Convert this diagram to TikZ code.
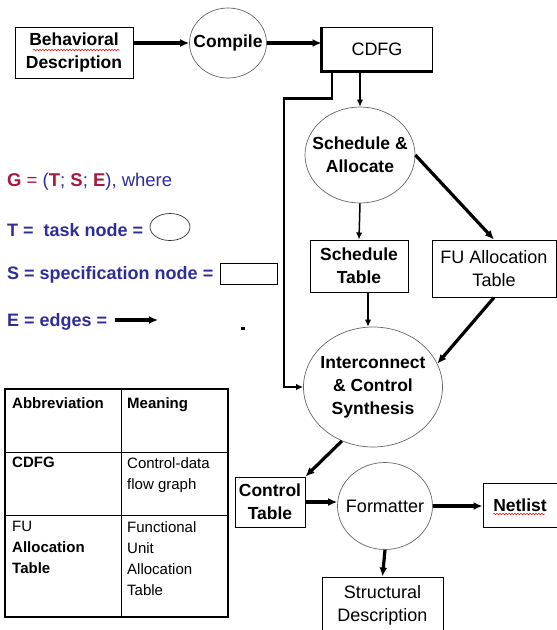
\documentclass[tikz,border=0pt]{standalone}
\usepackage{fontspec}
\setmainfont{Liberation Sans}
\usetikzlibrary{arrows.meta,
                shapes.geometric,
                decorations.pathmorphing}
\definecolor{legblue}{RGB}{45,45,155}
\definecolor{legred}{RGB}{165,25,60}

\begin{document}
\begin{tikzpicture}[x=1pt,y=-1pt]

\tikzstyle{specbox}=[rectangle, draw, line width=1pt, align=center, inner sep=1pt, font=\bfseries\fontsize{17.5}{23}\selectfont]
\tikzstyle{tasknode}=[ellipse, draw=black!60, line width=0.7pt, inner sep=0pt]
\tikzstyle{tasktext}=[align=center, inner sep=0pt, font=\bfseries\fontsize{17.5}{23}\selectfont]
\tikzstyle{arrow}=[-{Latex[length=9pt,width=8pt]}, line width=3.2pt]
\tikzstyle{thinarrow}=[-{Latex[length=7pt,width=6.5pt]}, line width=1.5pt]
\tikzstyle{legend}=[anchor=west, inner sep=0pt, text=legblue, font=\bfseries\fontsize{18}{20}\selectfont]
\tikzstyle{cell}=[anchor=north west, align=left, inner sep=0pt, font=\fontsize{15}{21}\selectfont]
\tikzstyle{squiggle}=[red, line width=0.5pt, decorate, decoration={snake, amplitude=0.8pt, segment length=3pt}]

\clip (0,0) rectangle (557,630);

% tasks and specifications
\node (beh) [specbox, minimum width=118pt, minimum height=51pt] at (74,52.5) {Behavioral\\Description};
\node (comp) [tasknode, minimum width=77pt, minimum height=70pt, label={[tasktext]center:Compile}] at (228,43) {};
\node (cdfg) [specbox, minimum width=110pt, minimum height=44pt, font=\fontsize{18}{23}\selectfont] at (377,49) {CDFG};
\node (sched) [tasknode, minimum width=110pt, minimum height=96pt, label={[tasktext]center:{Schedule \&\\Allocate}}] at (360,155) {};
\node (schedtab) [specbox, minimum width=98pt, minimum height=52pt] at (359,266) {Schedule\\Table};
\node (futab) [specbox, minimum width=124pt, minimum height=57pt, font=\fontsize{18}{23}\selectfont] at (494,268.5) {FU Allocation\\Table};
\node (inter) [tasknode, minimum width=139pt, minimum height=120pt, label={[tasktext]center:{Interconnect\\\& Control\\Synthesis}}] at (373,387) {};
\node (ctrltab) [specbox, minimum width=70pt, minimum height=50pt] at (270,502) {Control\\Table};
\node (fmt) [tasknode, minimum width=95pt, minimum height=87pt, label={[tasktext, font=\fontsize{18}{23}\selectfont]center:Formatter}] at (385,506) {};
\node (netlist) [specbox, minimum width=74pt, minimum height=44pt] at (520,505) {Netlist};
\node (struct) [specbox, minimum width=121pt, minimum height=56pt, font=\fontsize{18}{23}\selectfont] at (382.5,605) {Structural\\Description};

% thicker edge of the CDFG box
\draw [line width=2.5pt] (cdfg.north west) -- (cdfg.south west) -- (cdfg.south east);

% spell-check marks
\draw [squiggle] (33,50) -- (120,50);
\draw [squiggle] (493,514) -- (545,514);

% edges
\draw [arrow] (beh.east |- comp) -- (comp.west);
\draw [arrow] (comp.east) -- (comp.east -| cdfg.west);
\draw [thinarrow] (sched.north |- cdfg.south) -- (sched.north);
\draw [thinarrow, line width=2.2pt] ([xshift=-45pt]cdfg.south) -- ++(0,27) -| ([xshift=-19pt]inter.west) -- (inter.west);
\draw [thinarrow] (sched.south) -- (schedtab.north);
\draw [arrow] (sched.east) -- (futab.north);
\draw [thinarrow] ([xshift=9pt]schedtab.south) -- ([xshift=9pt]schedtab.south |- inter.north);
\draw [arrow] (futab.south) -- (inter.20);
\draw [arrow] (inter.240) -- (ctrltab.north east);
\draw [arrow] (ctrltab.east) -- (ctrltab.east -| fmt.west);
\draw [arrow] (fmt.east) -- (fmt.east -| netlist.west);
\draw [arrow] (fmt.south) -- (struct.north);

% legend
\node (legG) [legend, font=\fontsize{18.5}{20}\selectfont] at (7,182) {\textcolor{legred}{\textbf{G} =} (\textcolor{legred}{\textbf{T}}; \textcolor{legred}{\textbf{S}}; \textcolor{legred}{\textbf{E}}),\ where};
\node (legT) [legend] at (7,230) {T =\ \ task node =};
\node (tasksym) [tasknode, draw=black!80, minimum width=40pt, minimum height=27pt] at (170,227) {};
\node (legS) [legend] at (7,275) {S = specification node =};
\node (specsym) [draw, line width=1pt, minimum width=57pt, minimum height=21pt, inner sep=0pt] at (248.5,273.5) {};
\node (legE) [legend] at (7,322) {E = edges =};
\coordinate (edgeS) at (115,320);
\coordinate (edgeT) at (158,320);
\draw [arrow] (edgeS) -- (edgeT);
\fill (241,327) rectangle (245,330);

% abbreviation table
\draw [line width=1.4pt] (5,389) rectangle (228,617);
\draw [line width=0.8pt] (121,389) -- (121,617) (5,452) -- (228,452) (5,515) -- (228,515);
\node (abbrH) [cell, font=\bfseries\fontsize{15}{21}\selectfont] at (12,397) {Abbreviation};
\node (meanH) [cell, font=\bfseries\fontsize{15}{21}\selectfont] at (127,397) {Meaning};
\node (abbrA) [cell, font=\bfseries\fontsize{15}{21}\selectfont] at (12,457) {CDFG};
\node (meanA) [cell] at (127,457) {Control-data\\flow graph};
\node (abbrB) [cell] at (12,521) {FU\\\textbf{Allocation}\\\textbf{Table}};
\node (meanB) [cell] at (127,521) {Functional\\Unit\\Allocation\\Table};

\end{tikzpicture}
\end{document}
